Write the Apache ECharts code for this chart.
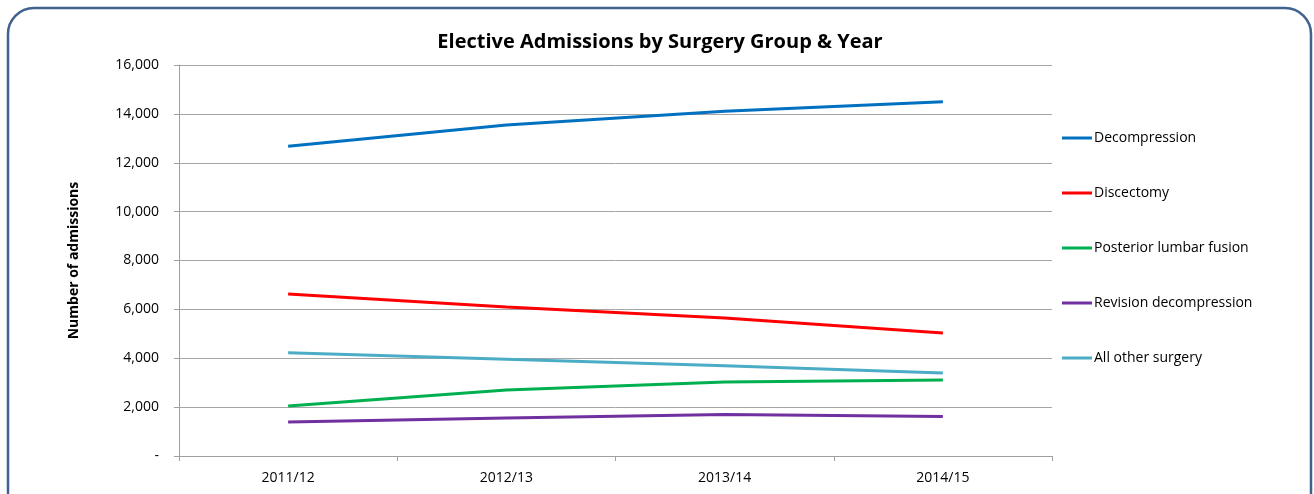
<!DOCTYPE html>
<html>
<head>
<meta charset="utf-8">
<title>Elective Admissions</title>
<script src="https://cdn.jsdelivr.net/npm/echarts@6/dist/echarts.min.js"></script>
<style>
  html, body { margin: 0; padding: 0; background: #fff; }
  #main { width: 1314px; height: 494px; }
</style>
</head>
<body>
<div id="main"></div>
<script>
var years = ['2011/12', '2012/13', '2013/14', '2014/15'];
var decompression = [12680, 13540, 14110, 14500];
var discectomy = [6630, 6100, 5650, 5030];
var lumbarFusion = [2050, 2700, 3030, 3110];
var revision = [1390, 1550, 1700, 1620];
var otherSurgery = [4220, 3960, 3690, 3400];

var font = 'Open Sans';
var chart = echarts.init(document.getElementById('main'));

function line(name, data, color) {
  return {
    name: name,
    type: 'line',
    data: data,
    symbol: 'none',
    lineStyle: { color: color, width: 3 },
    itemStyle: { color: color }
  };
}

chart.setOption({
  animation: false,
  textStyle: { fontFamily: font },
  graphic: [{
    type: 'rect',
    shape: { x: 8, y: 8, width: 1303, height: 520, r: 26 },
    style: { fill: 'none', stroke: '#41628f', lineWidth: 2.5 },
    silent: true
  }],
  title: {
    text: 'Elective Admissions by Surgery Group & Year',
    left: 655,
    textAlign: 'center',
    top: 27,
    textStyle: { fontFamily: font, fontSize: 20, fontWeight: 'bold', color: '#000' }
  },
  legend: {
    orient: 'vertical',
    left: 1057,
    top: 126,
    itemGap: 41,
    itemWidth: 30,
    itemHeight: 3,
    icon: 'rect',
    textStyle: { fontFamily: font, fontSize: 14, color: '#000', padding: [0, 0, 0, -3] },
    data: ['Decompression', 'Discectomy', 'Posterior lumbar fusion', 'Revision decompression', 'All other surgery']
  },
  grid: { left: 179, right: 262, top: 65, bottom: 38 },
  xAxis: {
    type: 'category',
    data: years,
    axisLine: { lineStyle: { color: '#a0a0a0', width: 1 } },
    axisTick: { show: true, length: 5, lineStyle: { color: '#a0a0a0' } },
    axisLabel: { color: '#000', fontSize: 14, margin: 15, fontFamily: font }
  },
  yAxis: {
    type: 'value',
    min: 0,
    max: 16000,
    interval: 2000,
    name: 'Number of admissions',
    nameLocation: 'middle',
    nameGap: 98,
    nameTextStyle: { fontFamily: font, fontSize: 14, fontWeight: 'bold', color: '#000' },
    axisLine: { show: true, lineStyle: { color: '#a0a0a0', width: 1 } },
    axisTick: { show: true, length: 5, lineStyle: { color: '#a0a0a0' } },
    splitLine: { lineStyle: { color: '#a6a6a6', width: 1 } },
    axisLabel: {
      color: '#000',
      fontSize: 14,
      margin: 20,
      fontFamily: font,
      formatter: function (v) {
        return v === 0 ? '-' : v.toLocaleString('en-US');
      }
    }
  },
  series: [
    line('Decompression', decompression, '#0070c0'),
    line('Discectomy', discectomy, '#ff0000'),
    line('Posterior lumbar fusion', lumbarFusion, '#00b050'),
    line('Revision decompression', revision, '#7030a0'),
    line('All other surgery', otherSurgery, '#4bacc6')
  ]
});
</script>
</body>
</html>
